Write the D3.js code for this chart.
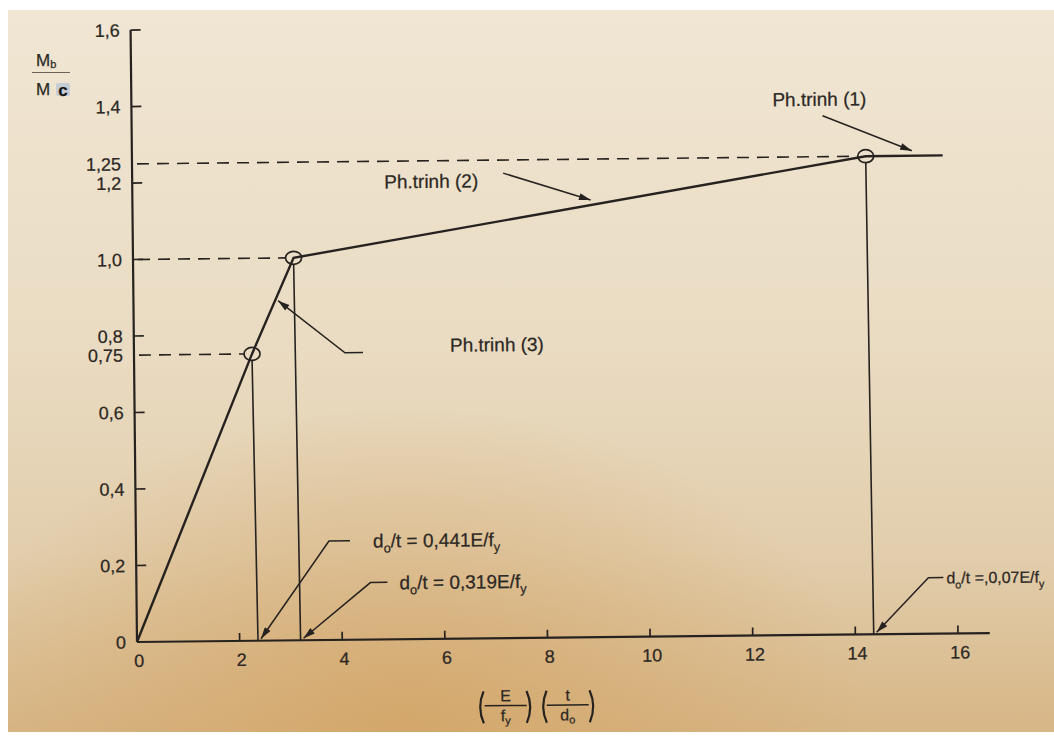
<!DOCTYPE html>
<html>
<head>
<meta charset="utf-8">
<script src="https://cdn.jsdelivr.net/npm/d3@7"></script>
<style>
  body { margin: 0; background: #fff; }
  svg { display: block; }
  text { font-family: "Liberation Sans", Arial, sans-serif; fill: #2c2824; stroke: #2c2824; stroke-width: 0.25px; }
</style>
</head>
<body>
<div id="chart"></div>
<script>
var width = 1054, height = 736;
var origin = { x: 137, y: 642 },
    plot_w = 821,   // 0 -> 16
    plot_h = 612;   // 0 -> 1.6

// curve vertices: (E/fy)(t/do) and Mb/Mc
var curve_x = [0, 2.3, 3.13, 14.3, 15.8];
var curve_y = [0, 0.75, 1.0, 1.25, 1.25];
var break_idx = [1, 2, 3];

var y_ticks = [0.2, 0.4, 0.6, 0.8, 1.0, 1.2, 1.4, 1.6];
var y_label_values = [0, 0.2, 0.4, 0.6, 0.75, 0.8, 1.0, 1.2, 1.25, 1.4, 1.6];
var y_label_texts = ["0", "0,2", "0,4", "0,6", "0,75", "0,8", "1,0", "1,2", "1,25", "1,4", "1,6"];
var x_ticks = [2, 4, 6, 8, 10, 12, 14, 16];
var x_labels = [0, 2, 4, 6, 8, 10, 12, 14, 16];

var x = d3.scaleLinear().domain([0, 16]).range([0, plot_w]);
var y = d3.scaleLinear().domain([0, 1.6]).range([0, -plot_h]);

var ink = "#26221f";
var fs_tick = 18, fs_note = 19;

var svg = d3.select("#chart").append("svg")
    .attr("width", width)
    .attr("height", height);

// paper
var defs = svg.append("defs");
var grad = defs.append("linearGradient").attr("id", "paper")
    .attr("x1", 0).attr("y1", 0).attr("x2", 0).attr("y2", 1);
grad.append("stop").attr("offset", "0%").attr("stop-color", "#f0e6d3");
grad.append("stop").attr("offset", "45%").attr("stop-color", "#eadcc3");
grad.append("stop").attr("offset", "75%").attr("stop-color", "#e2cead");
grad.append("stop").attr("offset", "100%").attr("stop-color", "#d7b686");
var glow = defs.append("radialGradient").attr("id", "glow")
    .attr("cx", 0.38).attr("cy", 1.0).attr("r", 0.45);
glow.append("stop").attr("offset", "0%").attr("stop-color", "#d2a262").attr("stop-opacity", 0.75);
glow.append("stop").attr("offset", "100%").attr("stop-color", "#d2a262").attr("stop-opacity", 0);

defs.append("marker")
    .attr("id", "head")
    .attr("markerUnits", "userSpaceOnUse")
    .attr("viewBox", "0 0 10 6")
    .attr("refX", 10).attr("refY", 3)
    .attr("markerWidth", 13).attr("markerHeight", 7)
    .attr("orient", "auto")
    .append("path")
    .attr("d", "M0,0 L10,3 L0,6 Z")
    .attr("fill", ink);

svg.append("rect").attr("x", 8).attr("y", 10).attr("width", width - 8).attr("height", 722)
    .attr("fill", "url(#paper)");
svg.append("rect").attr("x", 8).attr("y", 10).attr("width", width - 8).attr("height", 722)
    .attr("fill", "url(#glow)");

// the photo is slightly tilted
var g = svg.append("g")
    .attr("transform", "translate(" + origin.x + "," + origin.y + ") rotate(-0.6)");

// axes
g.append("line")
    .attr("x1", 0).attr("y1", y(0)).attr("x2", 0).attr("y2", y(1.6))
    .attr("stroke", ink).attr("stroke-width", 2.2);
g.append("line")
    .attr("x1", 0).attr("y1", y(0)).attr("x2", x(16.62)).attr("y2", y(0))
    .attr("stroke", ink).attr("stroke-width", 2.2);

g.selectAll(".ytick").data(y_ticks).enter().append("line")
    .attr("class", "ytick")
    .attr("x1", 0).attr("x2", 10)
    .attr("y1", function (d) { return y(d); })
    .attr("y2", function (d) { return y(d); })
    .attr("stroke", ink).attr("stroke-width", 1.7);

g.selectAll(".xtick").data(x_ticks).enter().append("line")
    .attr("class", "xtick")
    .attr("x1", function (d) { return x(d); })
    .attr("x2", function (d) { return x(d); })
    .attr("y1", 0).attr("y2", -8)
    .attr("stroke", ink).attr("stroke-width", 1.7);

g.selectAll(".ylab").data(y_label_values).enter().append("text")
    .attr("class", "ylab")
    .attr("x", -11)
    .attr("y", function (d) { return y(d); })
    .attr("dy", "0.36em")
    .attr("text-anchor", "end")
    .attr("font-size", fs_tick)
    .text(function (d, i) { return y_label_texts[i]; });

g.selectAll(".xlab").data(x_labels).enter().append("text")
    .attr("class", "xlab")
    .attr("x", function (d) { return x(d) + 2; })
    .attr("y", 25)
    .attr("text-anchor", "middle")
    .attr("font-size", fs_tick)
    .text(function (d) { return d; });

// dashed guides and drop lines
var rx = 8, ry = 6.5;
break_idx.forEach(function (i) {
    g.append("line")
        .attr("x1", 5).attr("x2", x(curve_x[i]) - rx)
        .attr("y1", y(curve_y[i])).attr("y2", y(curve_y[i]))
        .attr("stroke", ink).attr("stroke-width", 1.6)
        .attr("stroke-dasharray", "12,8");
    g.append("line")
        .attr("x1", x(curve_x[i])).attr("x2", x(curve_x[i]) + 3)
        .attr("y1", y(curve_y[i]) + ry).attr("y2", y(0))
        .attr("stroke", ink).attr("stroke-width", 1.6);
});

// curve
var line = d3.line()
    .x(function (d) { return x(d[0]); })
    .y(function (d) { return y(d[1]); });
g.append("path")
    .datum(curve_x.map(function (v, i) { return [v, curve_y[i]]; }))
    .attr("d", line)
    .attr("fill", "none")
    .attr("stroke", ink)
    .attr("stroke-width", 2.4);

g.selectAll(".brk").data(break_idx).enter().append("ellipse")
    .attr("class", "brk")
    .attr("cx", function (i) { return x(curve_x[i]); })
    .attr("cy", function (i) { return y(curve_y[i]); })
    .attr("rx", rx).attr("ry", ry)
    .attr("fill", "none")
    .attr("stroke", ink).attr("stroke-width", 1.7);

// point on the curve at a given x
function on_curve(v) {
    for (var i = 1; i < curve_x.length; i++) {
        if (v <= curve_x[i]) {
            var t = (v - curve_x[i - 1]) / (curve_x[i] - curve_x[i - 1]);
            return curve_y[i - 1] + t * (curve_y[i] - curve_y[i - 1]);
        }
    }
    return curve_y[curve_y.length - 1];
}

function leader(pts) {
    g.append("path")
        .attr("d", "M" + pts.map(function (p) { return p.join(","); }).join("L"))
        .attr("fill", "none")
        .attr("stroke", ink).attr("stroke-width", 1.5)
        .attr("marker-end", "url(#head)");
}

function sub_label(tx, ty, size, parts) {
    var t = g.append("text").attr("x", tx).attr("y", ty).attr("font-size", size);
    parts.forEach(function (p) {
        t.append("tspan")
            .attr("font-size", p.sub ? size * 0.68 : size)
            .attr("dy", p.sub ? 5 : (p.after ? -5 : 0))
            .text(p.s);
    });
    return t;
}

// Ph.trinh labels
g.append("text").attr("x", 641).attr("y", -529).attr("font-size", fs_note).text("Ph.trinh (1)");
leader([[691, -519], [x(15.2), y(1.25) - 5]]);

g.append("text").attr("x", 252).attr("y", -451).attr("font-size", fs_note).text("Ph.trinh (2)");
leader([[371, -465], [x(8.93), y(on_curve(8.93)) - 5]]);

g.append("text").attr("x", 316).attr("y", -287).attr("font-size", fs_note).text("Ph.trinh (3)");
leader([[229, -287], [211, -287], [x(2.76) + 3, y(on_curve(2.76))]]);

// d/t labels
sub_label(237, -92, fs_note, [{ s: "d" }, { s: "o", sub: true }, { s: "/t = 0,441E/f", after: true }, { s: "y", sub: true }]);
leader([[214, -99], [193, -99], [x(2.3) + 6, -2]]);

sub_label(263, -50, fs_note, [{ s: "d" }, { s: "o", sub: true }, { s: "/t = 0,319E/f", after: true }, { s: "y", sub: true }]);
leader([[251, -57], [234, -57], [x(3.13) + 6, -2]]);

sub_label(810, -50, 16, [{ s: "d" }, { s: "o", sub: true }, { s: "/t =,0,07E/f", after: true }, { s: "y", sub: true }])
    .attr("textLength", 98).attr("lengthAdjust", "spacingAndGlyphs");
leader([[807, -56], [792, -56], [x(14.3) + 6, -2]]);

// x axis title ( E/fy )( t/do )
function paren(px, open) {
    var k = open ? 1 : -1;
    g.append("path")
        .attr("d", "M" + (px + 3 * k) + ",53 Q" + (px - 4 * k) + ",69 " + (px + 3 * k) + ",85")
        .attr("fill", "none").attr("stroke", ink).attr("stroke-width", 2.2);
}
function frac(cx, top, bot, bot_sub) {
    g.append("text").attr("x", cx).attr("y", 63).attr("text-anchor", "middle")
        .attr("font-size", 16).text(top);
    g.append("line").attr("x1", cx - 21).attr("x2", cx + 21).attr("y1", 67.5).attr("y2", 67.5)
        .attr("stroke", ink).attr("stroke-width", 1.5);
    var t = g.append("text").attr("x", cx).attr("y", 83).attr("text-anchor", "middle")
        .attr("font-size", 16);
    t.append("tspan").text(bot);
    t.append("tspan").attr("font-size", 11).attr("dy", 3).text(bot_sub);
}
paren(343, true);
frac(368, "E", "f", "y");
paren(392, false);
paren(406, true);
frac(430, "t", "d", "o");
paren(455, false);

// y axis title Mb / Mc
var yt = svg.append("g");
var mb = yt.append("text").attr("x", 36).attr("y", 66).attr("font-size", 17);
mb.append("tspan").text("M");
mb.append("tspan").attr("font-size", 11).attr("dy", 2).text("b");
yt.append("line").attr("x1", 32).attr("x2", 70).attr("y1", 72.5).attr("y2", 72.5)
    .attr("stroke", "#6a625a").attr("stroke-width", 1.2);
yt.append("text").attr("x", 36).attr("y", 95).attr("font-size", 17).text("M");
yt.append("rect").attr("x", 56).attr("y", 83).attr("width", 14).attr("height", 13)
    .attr("rx", 2).attr("fill", "#c6cdd4");
yt.append("text").attr("x", 63).attr("y", 95.5).attr("text-anchor", "middle")
    .attr("font-size", 17).attr("font-weight", "bold").style("fill", "#111").text("c");
</script>
</body>
</html>
